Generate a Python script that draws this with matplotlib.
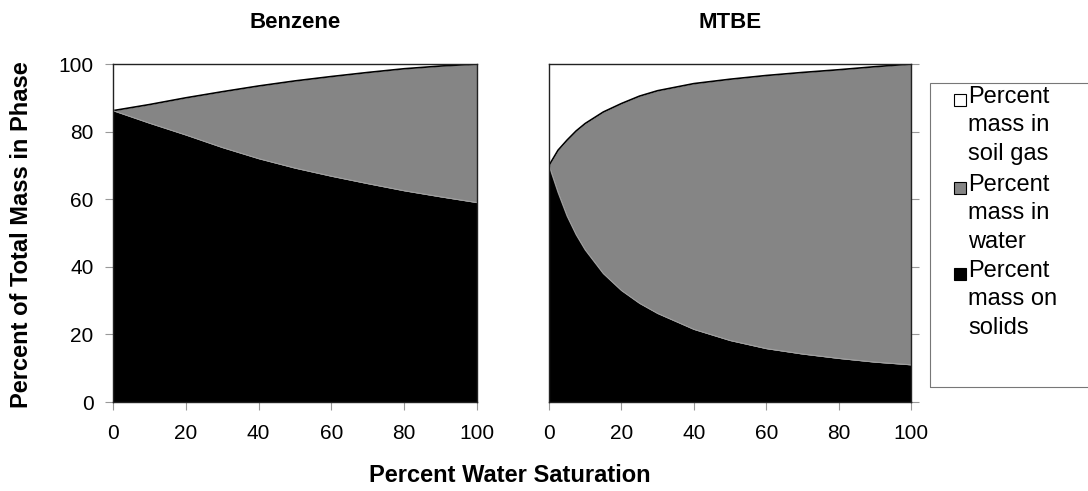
import matplotlib
matplotlib.use("Agg")
import matplotlib.pyplot as plt
from matplotlib.patches import Rectangle
import numpy as np

plt.rcParams['font.family'] = ['Liberation Sans', 'DejaVu Sans']

# Benzene
benz_x = [0, 10, 20, 30, 40, 50, 60, 70, 80, 90, 100]
benz_solids = [86.2, 82.5, 79.0, 75.3, 72.0, 69.2, 66.8, 64.6, 62.5, 60.7, 59.0]
benz_solids_water = [86.2, 88.0, 90.0, 91.8, 93.5, 95.0, 96.3, 97.5, 98.6, 99.4, 100.0]

# MTBE
mtbe_x = [0, 2.5, 5, 7.5, 10, 15, 20, 25, 30, 40, 50, 60, 70, 80, 90, 100]
mtbe_solids = [70.0, 62.0, 55.0, 49.5, 45.0, 38.0, 33.0, 29.2, 26.2, 21.5, 18.2,
               15.8, 14.2, 12.9, 11.8, 11.0]
mtbe_solids_water = [70.0, 74.5, 77.5, 80.2, 82.4, 85.8, 88.3, 90.5, 92.1, 94.2, 95.5,
                     96.6, 97.5, 98.3, 99.2, 100.0]

titles = ["Benzene", "MTBE"]
legend_labels = ["Percent\nmass in\nsoil gas", "Percent\nmass in\nwater", "Percent\nmass on\nsolids"]
xticks = [0, 20, 40, 60, 80, 100]
yticks = [0, 20, 40, 60, 80, 100]

GRAY = "#858585"
W, H = 1088, 491
fig = plt.figure(figsize=(W / 100, H / 100), dpi=100)


def fx(px):
    return px / W


def fy(py):
    return 1 - py / H


ax1 = fig.add_axes([fx(113), fy(402), fx(477) - fx(113), fy(64) - fy(402)])
ax2 = fig.add_axes([fx(549), fy(402), fx(911) - fx(549), fy(64) - fy(402)])

for ax, x, s, sw, title in [(ax1, benz_x, benz_solids, benz_solids_water, titles[0]),
                             (ax2, mtbe_x, mtbe_solids, mtbe_solids_water, titles[1])]:
    x = np.array(x)
    s = np.array(s)
    sw = np.array(sw)
    ax.fill_between(x, 0, s, color="black", lw=0)
    ax.fill_between(x, s, sw, color=GRAY, lw=0)
    ax.fill_between(x, sw, 100, color="white", lw=0)
    ax.plot(x, sw, color="black", lw=1.2)
    ax.plot(x, s, color="#a0a0a0", lw=0.8)
    ax.set_xlim(0, 100)
    ax.set_ylim(0, 100)
    ax.set_xticks(xticks)
    ax.set_yticks(yticks)
    ax.tick_params(axis="both", labelsize=15, length=6, width=0.8, color="#999999")
    ax.tick_params(axis="x", pad=10)
    ax.tick_params(axis="y", pad=8)
    for sp in ax.spines.values():
        sp.set_linewidth(1.0)
        sp.set_color("#222222")
    cx = (ax.get_position().x0 + ax.get_position().x1) / 2
    fig.text(cx, fy(22), title, ha="center", va="center", fontsize=16, fontweight="bold")

ax2.yaxis.tick_right()
ax2.tick_params(axis="y", labelright=False, labelleft=False)

fig.text(fx(22), fy(235), "Percent of Total Mass in Phase", rotation=90,
         ha="center", va="center", fontsize=17, fontweight="bold")
fig.text(fx(510), fy(476), "Percent Water Saturation",
         ha="center", va="center", fontsize=17, fontweight="bold")

# legend frame
fig.patches.append(Rectangle((fx(930), fy(387)), fx(1095) - fx(930), fy(83) - fy(387),
                             transform=fig.transFigure, fill=False, edgecolor="#777777",
                             lw=0.8))

legend_colors = ["white", GRAY, "black"]
block_center = [99, 187, 273]
for lab, col, yc in zip(legend_labels, legend_colors, block_center):
    fig.patches.append(Rectangle((fx(954), fy(yc + 7)), fx(966) - fx(954), fy(yc - 5) - fy(yc + 7),
                                 transform=fig.transFigure, facecolor=col,
                                 edgecolor="black", lw=0.8))
    fig.text(fx(968), fy(yc - 13), lab, ha="left", va="top", fontsize=17,
             linespacing=1.38, transform=fig.transFigure)

fig.savefig("out.png", dpi=100)
